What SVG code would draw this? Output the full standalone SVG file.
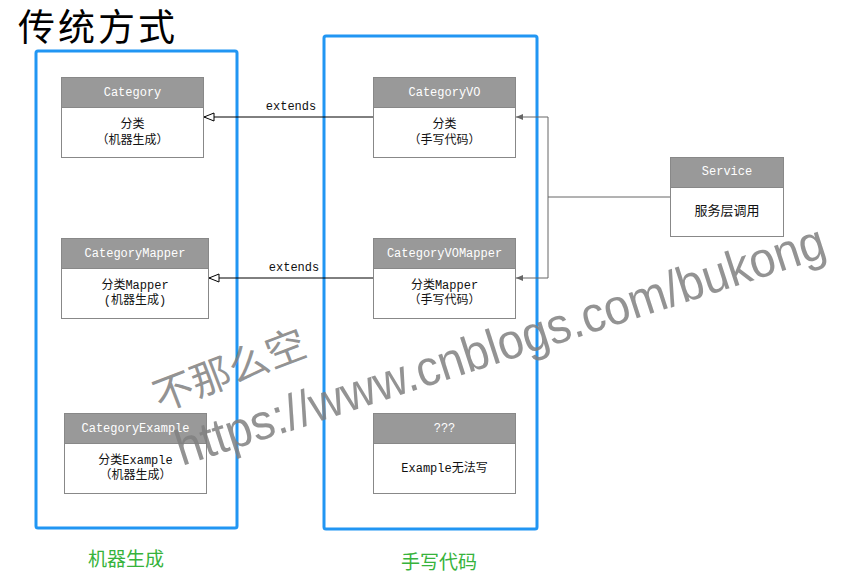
<svg xmlns="http://www.w3.org/2000/svg" width="845" height="583" viewBox="0 0 845 583">
<style>
.bg{fill:#ffffff}
.group{fill:none;stroke:#2196f3;stroke-width:3}
.hdr{fill:#999999;stroke:#888888;stroke-width:1}
.body{fill:#ffffff;stroke:#888888;stroke-width:1}
.ht{font-family:"Liberation Mono","Noto Sans CJK SC",monospace;font-size:12px;fill:#ffffff;text-anchor:middle}
.bt{font-family:"Liberation Mono","Noto Sans CJK SC",monospace;font-size:12px;fill:#111111;text-anchor:middle}
.lbl{font-family:"Liberation Mono",monospace;font-size:12px;fill:#111111;text-anchor:middle}
.title{font-family:"Noto Sans CJK SC",sans-serif;font-size:37px;fill:#000000;letter-spacing:3px}
.cap{font-family:"Noto Sans CJK SC",sans-serif;font-size:19px;fill:#37b33c;text-anchor:middle}
.ext{fill:none;stroke:#000000;stroke-width:1}
.use{fill:none;stroke:#666666;stroke-width:1}
.wm{font-family:"Liberation Sans","Noto Sans CJK SC",sans-serif;fill:#808080;fill-opacity:0.85}
</style>
<defs>
<marker id="hollow" markerWidth="12" markerHeight="10" refX="11" refY="5" orient="auto" markerUnits="userSpaceOnUse">
<path d="M1,1 L11,5 L1,9 Z" fill="#ffffff" stroke="#000000" stroke-width="1"/>
</marker>
<marker id="solid" markerWidth="8" markerHeight="8" refX="7" refY="4" orient="auto" markerUnits="userSpaceOnUse">
<path d="M0,1 L7,4 L0,7 Z" fill="#666666"/>
</marker>
</defs>
<rect class="bg" x="0" y="0" width="845" height="583"/>
<text class="title" x="18" y="41">传统方式</text>
<rect class="group" x="36" y="51" width="201" height="477" rx="2"/>
<rect class="group" x="324" y="36" width="213" height="493" rx="2"/>

<g id="connectors">
<line class="ext" x1="373" y1="117" x2="204" y2="117" marker-end="url(#hollow)"/>
<text class="lbl" x="291" y="110">extends</text>
<line class="ext" x1="373" y1="278" x2="209" y2="278" marker-end="url(#hollow)"/>
<text class="lbl" x="294" y="271">extends</text>
<polyline class="use" points="671,197 548,197"/>
<polyline class="use" points="548,117 548,278"/>
<line class="use" x1="548" y1="117" x2="516" y2="117" marker-end="url(#solid)"/>
<line class="use" x1="548" y1="278" x2="516" y2="278" marker-end="url(#solid)"/>
</g>

<g id="category">
<rect class="body" x="61.5" y="107.5" width="142" height="50"/>
<rect class="hdr" x="61.5" y="77.5" width="142" height="30"/>
<text class="ht" x="132.5" y="96">Category</text>
<text class="bt" x="132.5" y="128">分类</text>
<text class="bt" x="132.5" y="144">（机器生成）</text>
</g>
<g id="categoryMapper">
<rect class="body" x="61.5" y="268.5" width="147" height="50"/>
<rect class="hdr" x="61.5" y="238.5" width="147" height="30"/>
<text class="ht" x="135" y="257">CategoryMapper</text>
<text class="bt" x="135" y="289">分类Mapper</text>
<text class="bt" x="135" y="304">(机器生成)</text>
</g>
<g id="categoryExample">
<rect class="body" x="64.5" y="443.5" width="142" height="50"/>
<rect class="hdr" x="64.5" y="413.5" width="142" height="30"/>
<text class="ht" x="135.5" y="432">CategoryExample</text>
<text class="bt" x="135.5" y="464">分类Example</text>
<text class="bt" x="135.5" y="479">（机器生成）</text>
</g>
<g id="categoryVO">
<rect class="body" x="373.5" y="107.5" width="142" height="50"/>
<rect class="hdr" x="373.5" y="77.5" width="142" height="30"/>
<text class="ht" x="444.5" y="96">CategoryVO</text>
<text class="bt" x="444.5" y="128">分类</text>
<text class="bt" x="444.5" y="144">（手写代码）</text>
</g>
<g id="categoryVOMapper">
<rect class="body" x="373.5" y="268.5" width="142" height="50"/>
<rect class="hdr" x="373.5" y="238.5" width="142" height="30"/>
<text class="ht" x="444.5" y="257">CategoryVOMapper</text>
<text class="bt" x="444.5" y="289">分类Mapper</text>
<text class="bt" x="444.5" y="304">（手写代码）</text>
</g>
<g id="unknown">
<rect class="body" x="373.5" y="443.5" width="142" height="50"/>
<rect class="hdr" x="373.5" y="413.5" width="142" height="30"/>
<text class="ht" x="444.5" y="432">???</text>
<text class="bt" x="444.5" y="472">Example无法写</text>
</g>
<g id="service">
<rect class="body" x="670.5" y="187.5" width="113" height="49"/>
<rect class="hdr" x="670.5" y="157.5" width="113" height="30"/>
<text class="ht" x="727" y="175">Service</text>
<text class="bt" x="727" y="215" style="font-family:'Noto Sans CJK SC',sans-serif;font-size:13px">服务层调用</text>
</g>

<text class="cap" x="126" y="566">机器生成</text>
<text class="cap" x="439" y="569">手写代码</text>

<text class="wm" x="0" y="0" font-size="40" transform="translate(160,412) rotate(-21)">不那么空</text>
<text class="wm" x="0" y="0" font-size="50" textLength="680" lengthAdjust="spacingAndGlyphs" transform="translate(182,466) rotate(-18)">https://www.cnblogs.com/bukong</text>
</svg>
